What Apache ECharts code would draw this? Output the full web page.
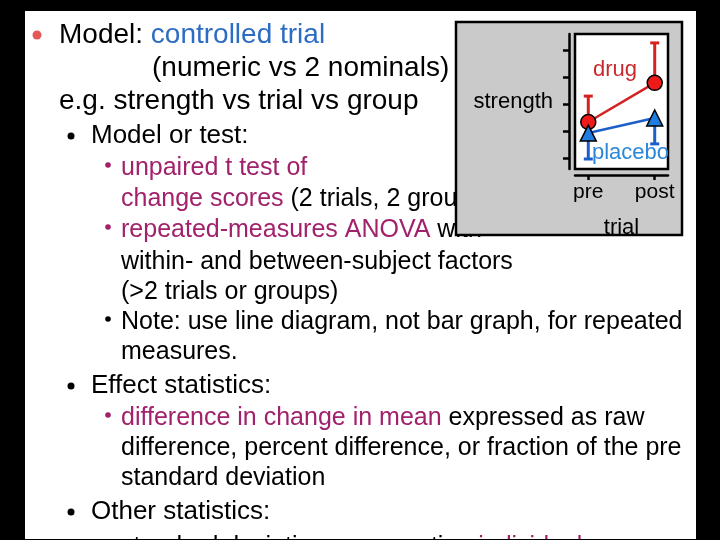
<!DOCTYPE html>
<html>
<head>
<meta charset="utf-8">
<title>controlled trial</title>
<script src="https://cdn.jsdelivr.net/npm/echarts@6.0.0/dist/echarts.min.js"></script>
<style>
  html, body { margin: 0; padding: 0; background: #000; }
  #main { width: 720px; height: 540px; }
</style>
</head>
<body>
<div id="main"></div>
<script>
// data (arbitrary strength units)
const trials = ['pre', 'post'];
const drugMean = [2.34, 3.79];
const drugUpper = [3.30, 5.27];
const placeboMean = [1.93, 2.49];
const placeboLower = [0.97, 1.53];
const strengthTicks = [1, 2, 3, 4, 5];

const FONT = '"Liberation Sans", Arial, sans-serif';
const K = '#000000', BLUE = '#2c6cc2', MAG = '#a1216b';
const RED = '#d42222', PBLUE = '#1c5fca';

// slide text, one entry per line
const levels = {
  1: { x: 59, size: 28, bx: 37, br: 4.5, dy: 0 },
  2: { x: 91, size: 26, bx: 71, br: 3.5, dy: 0 },
  3: { x: 121, size: 25, bx: 108, br: 2.8, dy: -3 }
};
const slideLines = [
  { lv: 1, y: 35, bullet: '#e65858', parts: [['Model: ', K], ['controlled trial', BLUE]] },
  { lv: 1, y: 68, x: 152, parts: [['(numeric vs 2 nominals)', K]] },
  { lv: 1, y: 101, parts: [['e.g. strength vs trial vs group', K]] },
  { lv: 2, y: 136, bullet: K, parts: [['Model or test:', K]] },
  { lv: 3, y: 168, bullet: MAG, parts: [['unpaired t test of', MAG]] },
  { lv: 3, y: 199, parts: [['change scores', MAG], [' (2 trials, 2 groups)', K]] },
  { lv: 3, y: 230, bullet: MAG, parts: [['repeated-measures ANOVA', MAG], [' with', K]] },
  { lv: 3, y: 262, parts: [['within- and between-subject factors', K]] },
  { lv: 3, y: 292, parts: [['(>2 trials or groups)', K]] },
  { lv: 3, y: 322, bullet: K, parts: [['Note: use line diagram, not bar graph, for repeated', K]] },
  { lv: 3, y: 352, parts: [['measures.', K]] },
  { lv: 2, y: 386, bullet: K, parts: [['Effect statistics:', K]] },
  { lv: 3, y: 418, bullet: MAG, parts: [['difference in change in mean', MAG], [' expressed as raw', K]] },
  { lv: 3, y: 448, parts: [['difference, percent difference, or fraction of the pre', K]] },
  { lv: 3, y: 478, parts: [['standard deviation', K]] },
  { lv: 2, y: 512, bullet: K, parts: [['Other statistics:', K]] },
  { lv: 3, y: 547, bullet: K, parts: [['standard deviation representing ', K], ['individual', MAG]] }
];

const elements = [
  // white slide
  { type: 'rect', z: 0, shape: { x: 25, y: 11, width: 671, height: 528 }, style: { fill: '#ffffff' } }
];

slideLines.forEach(function (ln) {
  const L = levels[ln.lv];
  const rich = {};
  let txt = '';
  ln.parts.forEach(function (p, i) {
    rich['p' + i] = { fill: p[1], fontSize: L.size, fontFamily: FONT };
    txt += '{p' + i + '|' + p[0] + '}';
  });
  elements.push({
    type: 'text', z: 1, x: ln.x || L.x, y: ln.y,
    style: { text: txt, rich: rich, fontSize: L.size, fontFamily: FONT, verticalAlign: 'middle', align: 'left' }
  });
  if (ln.bullet) {
    elements.push({ type: 'circle', z: 1, shape: { cx: L.bx, cy: ln.y + L.dy, r: L.br }, style: { fill: ln.bullet } });
  }
});

// inset panel
elements.push(
  { type: 'rect', z: 2, shape: { x: 456, y: 22, width: 226, height: 213 }, style: { fill: '#cacaca', stroke: '#000', lineWidth: 2.5 } },
  { type: 'rect', z: 3, shape: { x: 575, y: 34, width: 93, height: 135 }, style: { fill: '#ffffff', stroke: '#000', lineWidth: 2.5 } },
  { type: 'text', z: 8, x: 593, y: 70, style: { text: 'drug', fill: '#c8282c', fontSize: 22, fontFamily: FONT, verticalAlign: 'middle' } },
  { type: 'text', z: 8, x: 592, y: 153, style: { text: 'placebo', fill: '#2a88d6', fontSize: 22, fontFamily: FONT, verticalAlign: 'middle' } },
  // bottom edge of the slide
  { type: 'rect', z: 10, shape: { x: 0, y: 539, width: 720, height: 2 }, style: { fill: '#000' } }
);

function errorBar(color) {
  return function (params, api) {
    const x = api.value(0);
    const a = api.coord([x, api.value(1)]);
    const b = api.coord([x, api.value(2)]);
    return {
      type: 'group',
      children: [
        { type: 'line', shape: { x1: a[0], y1: a[1], x2: b[0], y2: b[1] }, style: { stroke: color, lineWidth: 3 } },
        { type: 'line', shape: { x1: b[0] - 4.5, y1: b[1], x2: b[0] + 4.5, y2: b[1] }, style: { stroke: color, lineWidth: 3 } }
      ]
    };
  };
}

const chart = echarts.init(document.getElementById('main'));
const option = {
  backgroundColor: '#000',
  animation: false,
  textStyle: { fontFamily: FONT },
  graphic: { elements: elements },
  grid: { left: 575, top: 34, width: 93, height: 135 },
  xAxis: {
    type: 'value', min: -0.2, max: 1.2, offset: 6, z: 4,
    axisLine: { onZero: false, lineStyle: { color: '#000', width: 2.5 } },
    axisTick: { show: true, customValues: [0, 1], length: 5, lineStyle: { color: '#000', width: 2.5 } },
    axisLabel: {
      customValues: [0, 1], margin: 7, color: '#000', fontSize: 21, fontFamily: FONT,
      formatter: function (v) { return trials[Math.round(v)]; }
    },
    splitLine: { show: false },
    name: 'trial', nameLocation: 'middle', nameGap: 42,
    nameTextStyle: { color: '#000', fontSize: 22, fontFamily: FONT }
  },
  yAxis: {
    type: 'value', min: 0.6, max: 5.6, offset: 6, z: 4,
    axisLine: { show: true, onZero: false, lineStyle: { color: '#000', width: 2.5 } },
    axisTick: { show: true, customValues: strengthTicks, length: 6, lineStyle: { color: '#000', width: 2.5 } },
    axisLabel: { show: false },
    splitLine: { show: false },
    name: 'strength', nameLocation: 'middle', nameRotate: 0, nameGap: 16,
    nameTextStyle: { color: '#000', fontSize: 22, fontFamily: FONT }
  },
  series: [
    {
      type: 'custom', z: 4, renderItem: errorBar(RED),
      data: trials.map(function (t, i) { return [i, drugMean[i], drugUpper[i]]; })
    },
    {
      type: 'custom', z: 5, renderItem: errorBar(PBLUE),
      data: trials.map(function (t, i) { return [i, placeboMean[i], placeboLower[i]]; })
    },
    {
      name: 'drug', type: 'line', z: 6,
      data: trials.map(function (t, i) { return [i, drugMean[i]]; }),
      symbol: 'circle', symbolSize: 15,
      lineStyle: { color: RED, width: 2.5 },
      itemStyle: { color: '#ee1a1a', borderColor: '#000', borderWidth: 1.5 }
    },
    {
      name: 'placebo', type: 'line', z: 7,
      data: trials.map(function (t, i) { return [i, placeboMean[i]]; }),
      symbol: 'triangle', symbolSize: 16,
      lineStyle: { color: PBLUE, width: 2.5 },
      itemStyle: { color: '#1f7de2', borderColor: '#000', borderWidth: 1.5 }
    }
  ]
};
chart.setOption(option);
</script>
</body>
</html>
